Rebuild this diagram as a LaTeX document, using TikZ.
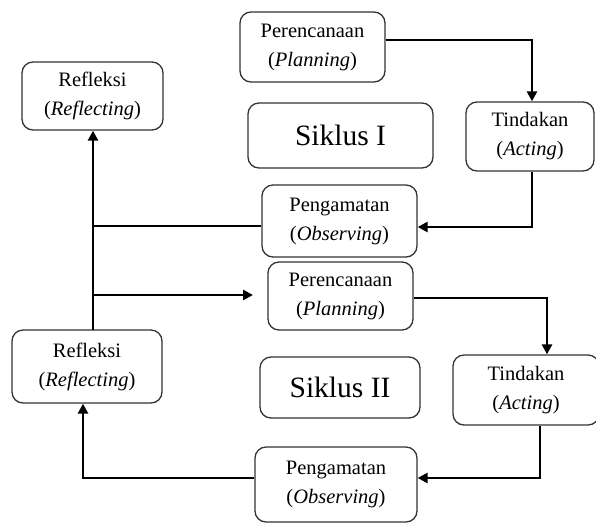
\documentclass[tikz,border=0pt]{standalone}
\usepackage{fontspec}
\setmainfont{Liberation Serif}
\usetikzlibrary{arrows.meta}
\tikzset{
  box/.style={draw=black!80, line width=1.3pt, rounded corners=11pt, align=center,
    inner sep=0pt, font=\fontsize{20.5}{29}\selectfont},
  bigbox/.style={box, font=\fontsize{29.5}{34}\selectfont},
  conn/.style={line width=2.6pt, black},
  arr/.style={conn, -{Triangle[length=10pt,width=10pt]}},
}
\begin{document}
\begin{tikzpicture}[x=1pt,y=-1pt]
\useasboundingbox (0,0) rectangle (596,523);
\node[box, minimum width=145pt, minimum height=70pt] (p1) at (312.5,47) {Perencanaan\\(\textit{Planning})};
\node[box, minimum width=141pt, minimum height=68pt] (r1) at (92.5,96) {Refleksi\\(\textit{Reflecting})};
\node[bigbox, minimum width=185pt, minimum height=65pt] (s1) at (340.5,135.5) {Siklus I};
\node[box, minimum width=128pt, minimum height=69pt] (t1) at (530,136.5) {Tindakan\\(\textit{Acting})};
\node[box, minimum width=155pt, minimum height=72pt] (g1) at (339.5,221) {Pengamatan\\(\textit{Observing})};
\node[box, minimum width=145pt, minimum height=68pt] (p2) at (340.5,296) {Perencanaan\\(\textit{Planning})};
\node[box, minimum width=150pt, minimum height=73pt] (r2) at (87,366.5) {Refleksi\\(\textit{Reflecting})};
\node[bigbox, minimum width=160pt, minimum height=61pt] (s2) at (340,387.5) {Siklus II};
\node[box, minimum width=146pt, minimum height=70pt] (t2) at (526,390) {Tindakan\\(\textit{Acting})};
\node[box, minimum width=162pt, minimum height=75pt] (g2) at (336,484.5) {Pengamatan\\(\textit{Observing})};

\coordinate (j1) at (93,226);
\coordinate (j2) at (93,330);
\coordinate (j3) at (93,295);
\coordinate (a3) at (253,295);
\coordinate (k1) at (532,40);
\coordinate (k2) at (532,227);
\coordinate (m1) at (547,298);
\coordinate (m2) at (540,478);
\coordinate (n1) at (83,478);

\draw[arr] ([yshift=7pt]p1.east) -- (k1) -- (k1 |- t1.north);
\draw[arr] (k2 |- t1.south) -- (k2) -- (k2 -| g1.east);
\draw[conn] (j1 -| g1.west) -- (j1);
\draw[arr] (j2) -- (j2 |- r1.south);
\draw[arr] (j3) -- (a3);
\draw[arr] (m1 -| p2.east) -- (m1) -- (m1 |- t2.north);
\draw[arr] (m2 |- t2.south) -- (m2) -- (m2 -| g2.east);
\draw[arr] (n1 -| g2.west) -- (n1) -- (n1 |- r2.south);
\end{tikzpicture}
\end{document}
